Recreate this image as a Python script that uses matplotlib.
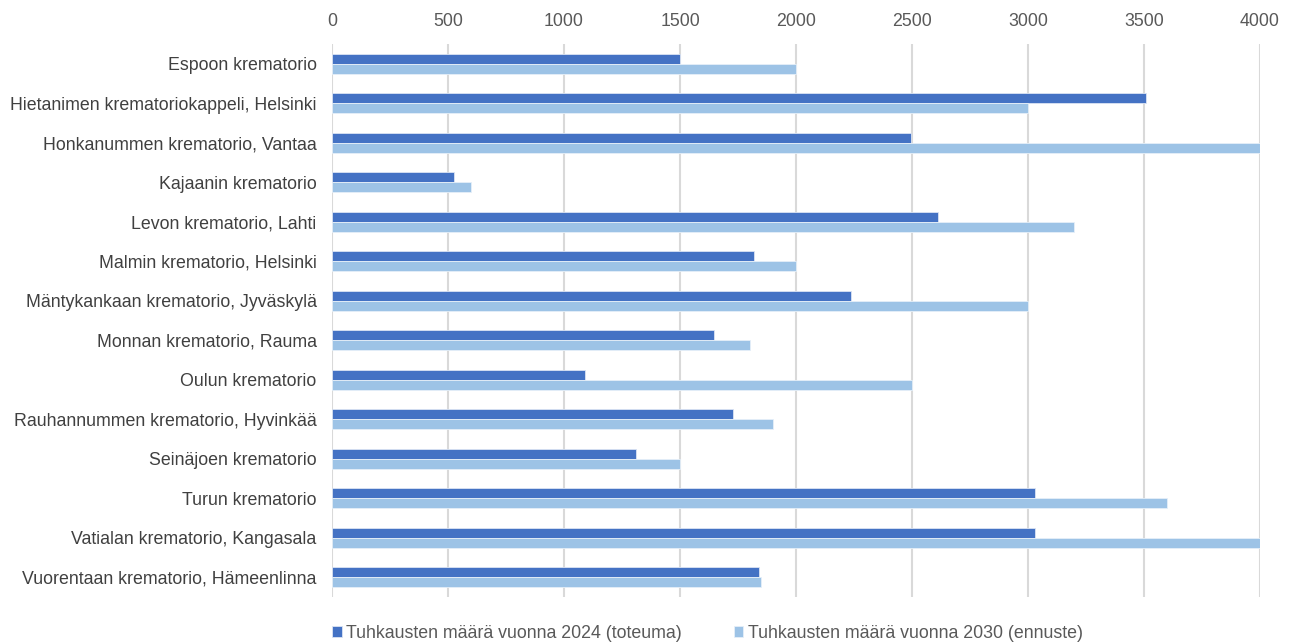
import matplotlib
matplotlib.use("Agg")
import matplotlib.pyplot as plt
import numpy as np

categories = [
    "Espoon krematorio",
    "Hietanimen krematoriokappeli, Helsinki",
    "Honkanummen krematorio, Vantaa",
    "Kajaanin krematorio",
    "Levon krematorio, Lahti",
    "Malmin krematorio, Helsinki",
    "Mäntykankaan krematorio, Jyväskylä",
    "Monnan krematorio, Rauma",
    "Oulun krematorio",
    "Rauhannummen krematorio, Hyvinkää",
    "Seinäjoen krematorio",
    "Turun krematorio",
    "Vatialan krematorio, Kangasala",
    "Vuorentaan krematorio, Hämeenlinna",
]
values_2024 = [1500, 3510, 2495, 525, 2610, 1820, 2235, 1645, 1090, 1730, 1310, 3030, 3030, 1840]
values_2030 = [2000, 3000, 4000, 600, 3200, 2000, 3000, 1800, 2500, 1900, 1500, 3600, 4000, 1850]
series_labels = ["Tuhkausten määrä vuonna 2024 (toteuma)",
                 "Tuhkausten määrä vuonna 2030 (ennuste)"]
xticks = [0, 500, 1000, 1500, 2000, 2500, 3000, 3500, 4000]

plt.rcParams['font.family'] = ['Liberation Sans', 'DejaVu Sans']
FS = 12.8

fig = plt.figure(figsize=(12.91, 6.42), dpi=100)
ax = fig.add_axes([332/1291, 1 - 597/642, (1260-332)/1291, (597-44)/642])

y = np.arange(len(categories))
h = 0.255
ax.barh(y - h/2, values_2024, height=h, color="#4472C4", edgecolor="#dbe4f3",
        linewidth=0.6, label=series_labels[0], zorder=3)
ax.barh(y + h/2, values_2030, height=h, color="#9DC3E6", edgecolor="#e6eff8",
        linewidth=0.6, label=series_labels[1], zorder=3)

ax.set_xlim(0, 4000)
ax.set_ylim(len(categories) - 0.5, -0.5)
ax.set_yticks(y)
ax.set_yticklabels(categories, fontsize=FS, color="#404040")
ax.set_xticks(xticks)
ax.set_xticklabels([str(t) for t in xticks], fontsize=FS, color="#595959")
ax.xaxis.tick_top()
ax.tick_params(axis='both', length=0)
ax.tick_params(axis='x', pad=10)
ax.tick_params(axis='y', pad=11)
ax.grid(axis='x', color="#d9d9d9", linewidth=1.5, zorder=0)
ax.set_axisbelow(True)
for s in ax.spines.values():
    s.set_visible(False)

leg = fig.legend(loc="center left", bbox_to_anchor=(332/1291, 1 - 633/642), ncol=2,
                 frameon=False, fontsize=FS, handlelength=0.55, handleheight=0.55,
                 handletextpad=0.25, columnspacing=2.9, labelcolor="#595959",
                 borderpad=0, borderaxespad=0)

fig.savefig("out.png", dpi=100)
